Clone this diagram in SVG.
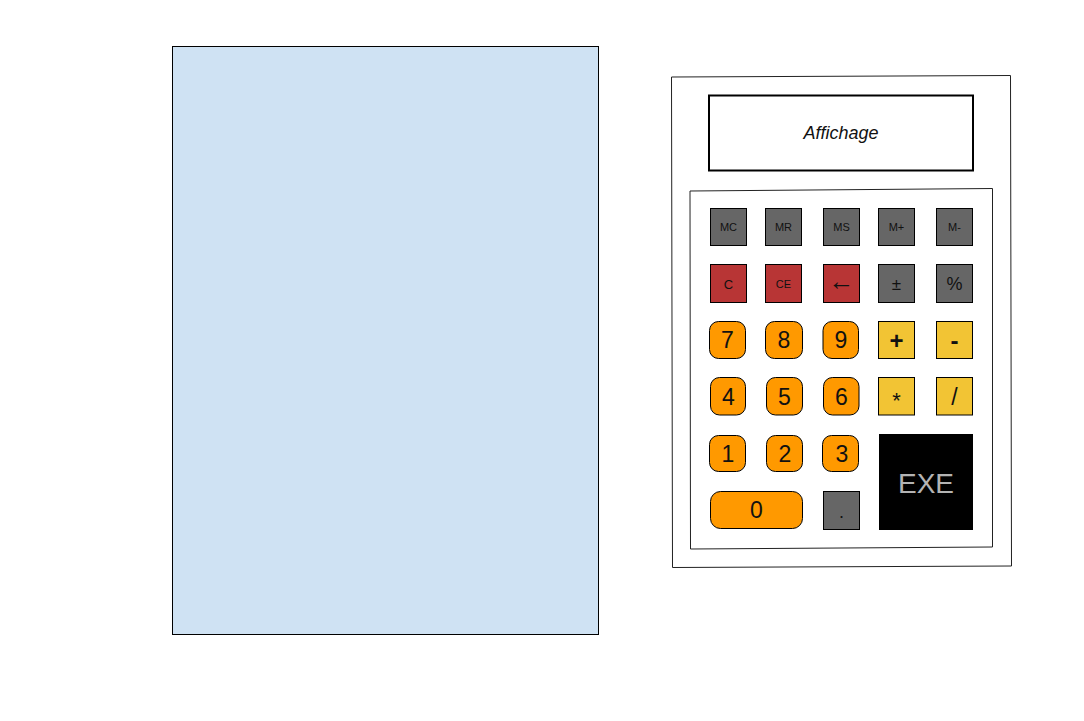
<svg xmlns="http://www.w3.org/2000/svg" width="1084" height="721" viewBox="0 0 1084 721">
<style>
text{font-family:"Liberation Sans",Arial,sans-serif;text-anchor:middle;dominant-baseline:central;fill:#111}
.g{fill:#666666;stroke:#000;stroke-width:1}
.r{fill:#b83535;stroke:#000;stroke-width:1}
.o{fill:#ff9900;stroke:#000;stroke-width:1}
.y{fill:#f2c434;stroke:#000;stroke-width:1}
.s{font-size:11px}
.n{font-size:23px}
</style>
<rect id="panel" x="172.5" y="46.5" width="426" height="588" fill="#cfe2f3" stroke="#000" stroke-width="1"/>
<g id="calculator">
<path d="M671.5 77 L1010.5 75.5 L1011.5 566 L672.5 567.5 Z" fill="#fff" stroke="#222" stroke-width="1"/>
<g id="display"><rect x="709" y="95.5" width="264" height="75" fill="#fff" stroke="#000" stroke-width="2"/><text x="841" y="133" font-size="18" font-style="italic">Affichage</text></g>
<path d="M690 191 L992.5 188.5 L992.5 547 L690.5 549 Z" fill="#fff" stroke="#222" stroke-width="1"/>
</g>
<g id="btn-mc"><rect class="g" x="710.5" y="208.5" width="36" height="37"/><text class="s" x="728.5" y="227">MC</text></g>
<g id="btn-mr"><rect class="g" x="765.5" y="208.5" width="36" height="37"/><text class="s" x="783.5" y="227">MR</text></g>
<g id="btn-ms"><rect class="g" x="823.5" y="208.5" width="36" height="37"/><text class="s" x="841.5" y="227">MS</text></g>
<g id="btn-mplus"><rect class="g" x="878.5" y="208.5" width="36" height="37"/><text class="s" x="896.5" y="227">M+</text></g>
<g id="btn-mminus"><rect class="g" x="936.5" y="208.5" width="36" height="37"/><text class="s" x="954.5" y="227">M-</text></g>
<g id="btn-c"><rect class="r" x="710.5" y="264.5" width="36" height="38"/><text x="728.5" y="284" font-size="13">C</text></g>
<g id="btn-ce"><rect class="r" x="765.5" y="264.5" width="36" height="38"/><text class="s" x="783.5" y="284">CE</text></g>
<g id="btn-back"><rect class="r" x="823.5" y="264.5" width="36" height="38"/><text x="841.5" y="281" font-size="26">←</text></g>
<g id="btn-pm"><rect class="g" x="878.5" y="264.5" width="36" height="38"/><text x="896.5" y="284" font-size="17">±</text></g>
<g id="btn-pct"><rect class="g" x="936.5" y="264.5" width="36" height="38"/><text x="954.5" y="284" font-size="18">%</text></g>
<g id="btn-7"><rect class="o" x="709.5" y="321.5" width="36" height="37" rx="9"/><text class="n" x="727.5" y="340">7</text></g>
<g id="btn-8"><rect class="o" x="765.5" y="321.5" width="37" height="37" rx="9"/><text class="n" x="784" y="340">8</text></g>
<g id="btn-9"><rect class="o" x="823" y="321.5" width="35.5" height="37" rx="9"/><text class="n" x="841" y="340">9</text></g>
<g id="btn-plus"><rect class="y" x="878.5" y="321.5" width="36" height="37"/><text x="896.5" y="340" font-size="24" font-weight="bold">+</text></g>
<g id="btn-minus"><rect class="y" x="936.5" y="321.5" width="36" height="37"/><text x="954.5" y="340" font-size="24" font-weight="bold">-</text></g>
<g id="btn-4"><rect class="o" x="710.5" y="377.5" width="35" height="37.5" rx="9"/><text class="n" x="728.5" y="397">4</text></g>
<g id="btn-5"><rect class="o" x="766.5" y="377.5" width="36" height="37.5" rx="9"/><text class="n" x="784.5" y="397">5</text></g>
<g id="btn-6"><rect class="o" x="823.5" y="377.5" width="35.5" height="37.5" rx="9"/><text class="n" x="841.5" y="397">6</text></g>
<g id="btn-mul"><rect class="y" x="878.5" y="377.5" width="36" height="37.5"/><text x="896.5" y="400" font-size="22">*</text></g>
<g id="btn-div"><rect class="y" x="936.5" y="377.5" width="36" height="37.5"/><text x="954.5" y="397" font-size="23">/</text></g>
<g id="btn-1"><rect class="o" x="709.5" y="435.5" width="36" height="36" rx="9"/><text class="n" x="728" y="454">1</text></g>
<g id="btn-2"><rect class="o" x="766.5" y="435.5" width="36" height="36" rx="9"/><text class="n" x="785" y="454">2</text></g>
<g id="btn-3"><rect class="o" x="822.5" y="435.5" width="36" height="36" rx="9"/><text class="n" x="842" y="454">3</text></g>
<g id="btn-exe"><rect x="879" y="434" width="94" height="96" fill="#000"/><text x="926" y="483" font-size="28" style="fill:#b3b3b3">EXE</text></g>
<g id="btn-0"><rect class="o" x="710.5" y="491.5" width="92" height="37" rx="10"/><text class="n" x="756.5" y="510">0</text></g>
<g id="btn-dot"><rect class="g" x="823.5" y="491.5" width="36" height="38"/><text x="841.5" y="512" font-size="18">.</text></g>
<g id="connectors"/>
</svg>
